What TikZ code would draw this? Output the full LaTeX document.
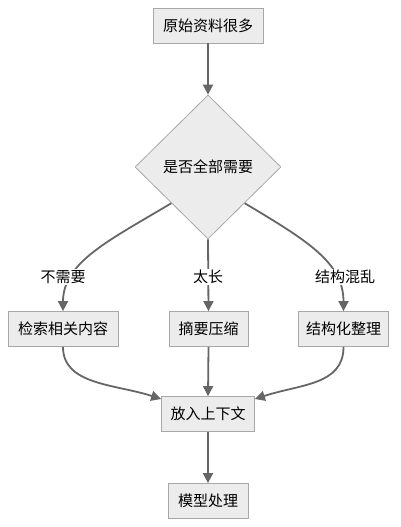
\documentclass[tikz,border=0pt]{standalone}
\usepackage{fontspec}
\setmainfont{Noto Sans CJK SC}
\usetikzlibrary{shapes.geometric,arrows.meta}
\definecolor{boxfill}{HTML}{ECECEC}
\definecolor{boxline}{HTML}{A8A8A8}
\definecolor{edgecol}{HTML}{666666}
\tikzset{
  box/.style={draw=boxline, fill=boxfill, line width=0.8pt, rectangle, inner sep=0pt, minimum height=35pt, font=\fontsize{15}{18}\selectfont},
  decision/.style={draw=boxline, fill=boxfill, line width=0.8pt, diamond, aspect=1, inner sep=0pt, minimum width=146pt, minimum height=144pt, font=\fontsize{15}{18}\selectfont},
  edge/.style={draw=edgecol, line width=1.8pt, -{Triangle[length=10pt,width=10pt]}},
  elabel/.style={fill=white, inner sep=1.5pt, font=\fontsize{15}{18}\selectfont},
}
\begin{document}
\begin{tikzpicture}[x=1pt,y=-1pt]
\useasboundingbox (0,0) rectangle (401,527);
\node[box, minimum width=110pt] (a) at (208,25.5) {原始资料很多};
\node[decision] (d) at (208,167) {是否全部需要};
\node[box, minimum width=110pt] (b1) at (63,329) {检索相关内容};
\node[box, minimum width=79pt] (b2) at (208.5,329) {摘要压缩};
\node[box, minimum width=90pt] (b3) at (343.5,329) {结构化整理};
\node[box, minimum width=93pt] (c) at (208,414) {放入上下文};
\node[box, minimum width=80pt] (e) at (208,501) {模型处理};

\draw[edge] (a.south) -- (d.north);
\draw[edge] (d.south west) .. controls (110,240) and (63,262) .. (b1.north);
\draw[edge] (d.south) -- (b2.north);
\draw[edge] (d.south east) .. controls (306,240) and (343.5,262) .. (b3.north);
\draw[edge] (b1.south) .. controls (63,385) and (115,384) .. (c.west |- 0,399);
\draw[edge] (b2.south) -- (c.north);
\draw[edge] (b3.south) .. controls (343.5,385) and (301,384) .. (c.east |- 0,399);
\draw[edge] (c.south) -- (e.north);

\node[elabel] (l1) at (63,277) {不需要};
\node[elabel] (l2) at (208,277) {太长};
\node[elabel] (l3) at (345,277) {结构混乱};
\end{tikzpicture}
\end{document}
